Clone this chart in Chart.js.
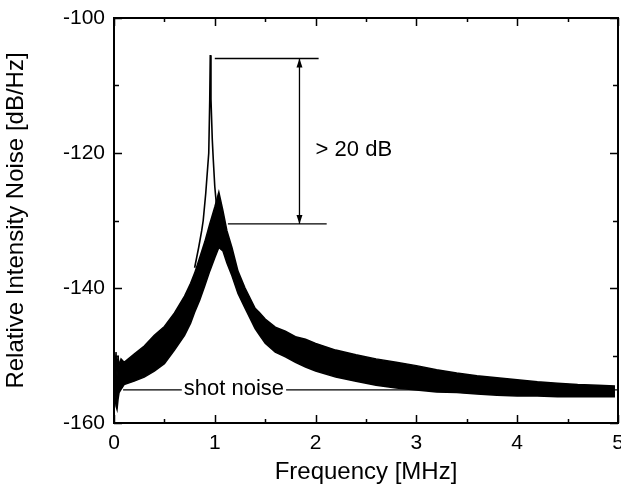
<!DOCTYPE html>
<html>
<head>
<meta charset="utf-8">
<script src="https://cdn.jsdelivr.net/npm/chart.js@4.4.1/dist/chart.umd.min.js"></script>
<style>
  html, body { margin: 0; padding: 0; background: #fff; }
  #wrap { width: 621px; height: 491px; }
</style>
</head>
<body>
<div id="wrap"><canvas id="rinChart" width="621" height="491"></canvas></div>
<script>
const bandFreq  = [0.01, 0.02, 0.03, 0.04, 0.05, 0.07, 0.1, 0.2, 0.3, 0.4, 0.5, 0.6, 0.7, 0.76, 0.8, 0.85, 0.9, 0.95, 1.0, 1.04, 1.08, 1.12, 1.17, 1.23, 1.3, 1.4, 1.44, 1.5, 1.6, 1.7, 1.8, 1.9, 2.0, 2.2, 2.4, 2.6, 2.8, 3.0, 3.2, 3.4, 3.6, 3.8, 4.0, 4.2, 4.4, 4.6, 4.8, 4.97];
const bandUpper = [-152, -149.5, -153, -150, -151.5, -150.5, -151, -149.8, -148.6, -147, -145.7, -143.7, -141.2, -139.3, -137.8, -135.5, -133.2, -130.5, -128, -125.8, -128.5, -131.5, -134, -137.5, -140, -143, -143.6, -144.6, -145.8, -146.4, -147.2, -147.6, -148.2, -149.2, -149.9, -150.5, -151, -151.5, -152.1, -152.6, -153, -153.3, -153.6, -153.9, -154.1, -154.3, -154.4, -154.5];
const bandLower = [-156, -157.5, -158, -156.5, -155.5, -155, -154.3, -153.8, -153.2, -152.3, -151.2, -149.2, -147, -145.2, -143.6, -141.8, -139.7, -137.5, -135.5, -134, -134.5, -136.3, -138.2, -140.8, -143, -146, -146.9, -148.2, -149.5, -150.2, -151, -151.7, -152.3, -153.2, -153.8, -154.4, -154.8, -155.1, -155.4, -155.5, -155.7, -155.9, -156, -156, -156.1, -156.1, -156.1, -156.1];

// narrow resonance trace rising out of the band
const peakFreq = [0.80, 0.84, 0.87, 0.885, 0.91, 0.94, 0.95, 0.955, 0.962, 0.975, 0.985, 1.0, 1.03, 1.07];
const peakRin  = [-137, -134, -131.5, -130, -126, -120, -112, -105.5, -112, -118, -121, -125, -130, -133];

// annotation
const markerLevels = [-106, -130.5];
const markerTopX = [1.0, 2.03];
const markerBottomX = [1.13, 2.11];
const arrowFreq = 1.84;
const shotNoiseX = [0.09, 5];
const shotNoiseDb = -155.1;
const shotLabelFreq = 1.19;
const gainLabel = { x: 2.0, y: -119.5, text: '> 20 dB' };

const xTickMarks = [0, 0.5, 1, 1.5, 2, 2.5, 3, 3.5, 4, 4.5, 5];
const yTickMarks = [-160, -150, -140, -130, -120, -110, -100];

const FONT = '"Liberation Sans", Arial, Helvetica, sans-serif';
Chart.defaults.font.family = FONT;
Chart.defaults.color = '#000';

const pts = (xs, ys) => xs.map((x, i) => ({ x: x, y: Array.isArray(ys) ? ys[i] : ys }));

const frameAndNotes = {
  id: 'frameAndNotes',
  afterDatasetsDraw(chart) {
    const { ctx, chartArea: a, scales: { x, y } } = chart;
    ctx.save();
    ctx.strokeStyle = '#000';
    ctx.fillStyle = '#000';

    // inward ticks on all four sides
    ctx.lineWidth = 1.5;
    ctx.beginPath();
    xTickMarks.forEach(v => {
      const px = Math.round(x.getPixelForValue(v)) + 0.5;
      const len = Number.isInteger(v) ? 8 : 4;
      ctx.moveTo(px, a.bottom); ctx.lineTo(px, a.bottom - len);
      ctx.moveTo(px, a.top); ctx.lineTo(px, a.top + len);
    });
    yTickMarks.forEach(v => {
      const py = Math.round(y.getPixelForValue(v)) + 0.5;
      const len = v % 20 === 0 ? 8 : 5;
      ctx.moveTo(a.left, py); ctx.lineTo(a.left + len, py);
      ctx.moveTo(a.right, py); ctx.lineTo(a.right - len, py);
    });
    ctx.stroke();

    ctx.lineWidth = 2;
    ctx.strokeRect(a.left, a.top, a.right - a.left, a.bottom - a.top);

    // arrow heads
    const ax = x.getPixelForValue(arrowFreq);
    const yTop = y.getPixelForValue(markerLevels[0]);
    const yBot = y.getPixelForValue(markerLevels[1]);
    ctx.beginPath();
    ctx.moveTo(ax, yTop); ctx.lineTo(ax - 3, yTop + 9); ctx.lineTo(ax + 3, yTop + 9); ctx.closePath();
    ctx.moveTo(ax, yBot); ctx.lineTo(ax - 3, yBot - 9); ctx.lineTo(ax + 3, yBot - 9); ctx.closePath();
    ctx.fill();

    ctx.font = '22px ' + FONT;
    ctx.textBaseline = 'middle';
    ctx.textAlign = 'left';
    ctx.fillText(gainLabel.text, x.getPixelForValue(gainLabel.x), y.getPixelForValue(gainLabel.y));

    // shot noise label sits on the line with a white gap
    const sx = x.getPixelForValue(shotLabelFreq);
    const sy = y.getPixelForValue(shotNoiseDb);
    const w = ctx.measureText('shot noise').width;
    ctx.fillStyle = '#fff';
    ctx.fillRect(sx - w / 2 - 2, sy - 4, w + 4, 8);
    ctx.fillStyle = '#000';
    ctx.textAlign = 'center';
    ctx.fillText('shot noise', sx, sy - 1);
    ctx.restore();
  }
};

const thin = { borderColor: '#000', borderWidth: 1.3, pointRadius: 0, fill: false, tension: 0 };

new Chart(document.getElementById('rinChart'), {
  type: 'line',
  data: {
    datasets: [
      { data: pts(bandFreq, bandUpper), borderColor: '#000', backgroundColor: '#000', borderWidth: 1.5, pointRadius: 0, fill: '+1', tension: 0, order: 1 },
      { data: pts(bandFreq, bandLower), borderColor: '#000', borderWidth: 1.5, pointRadius: 0, fill: false, tension: 0, order: 2 },
      { data: pts(peakFreq, peakRin), ...thin, borderWidth: 1.6, order: 0 },
      { data: pts(markerTopX, markerLevels[0]), ...thin, order: 3 },
      { data: pts(markerBottomX, markerLevels[1]), ...thin, order: 3 },
      { data: pts([arrowFreq, arrowFreq], markerLevels), ...thin, order: 3 },
      { data: pts(shotNoiseX, shotNoiseDb), ...thin, order: 5 }
    ]
  },
  options: {
    responsive: false,
    animation: false,
    devicePixelRatio: 1,
    layout: { padding: { top: 18, right: 3, left: 0, bottom: 0 } },
    plugins: { legend: { display: false }, tooltip: { enabled: false } },
    scales: {
      x: {
        type: 'linear', min: 0, max: 5,
        grid: { display: false, drawTicks: false },
        border: { display: false },
        ticks: { stepSize: 1, padding: 8, font: { size: 21 }, color: '#000' },
        title: { display: true, text: 'Frequency [MHz]', font: { size: 24 }, color: '#000', padding: { top: 0, bottom: 4 } },
        afterFit(s) { s.height = 68; s.paddingLeft = 0; s.paddingRight = 0; }
      },
      y: {
        type: 'linear', min: -160, max: -100,
        grid: { display: false, drawTicks: false },
        border: { display: false },
        ticks: { stepSize: 20, padding: 9, font: { size: 21 }, color: '#000' },
        title: { display: true, text: 'Relative Intensity Noise [dB/Hz]', font: { size: 24 }, color: '#000', padding: { top: 2, bottom: 0 } },
        afterFit(s) { s.width = 114; s.paddingTop = 0; s.paddingBottom = 0; }
      }
    }
  },
  plugins: [frameAndNotes]
});
</script>
</body>
</html>
